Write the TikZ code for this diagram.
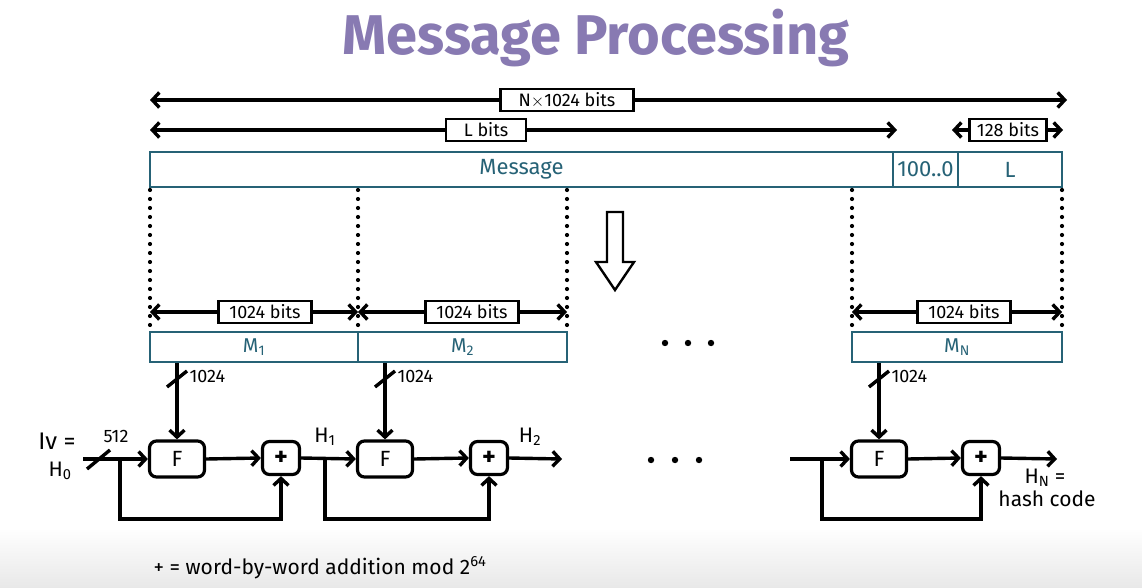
\documentclass[tikz,border=0pt]{standalone}
\usepackage{fontspec}
\setmainfont{Fira Sans}
\usetikzlibrary{arrows.meta,calc}

\definecolor{msgteal}{RGB}{38,98,118}
\definecolor{titlepurple}{RGB}{136,122,178}

\tikzset{
  flow/.style={line width=3.4pt},
  bitsbox/.style={draw,line width=2.6pt,fill=white,inner sep=0pt,minimum height=22pt,font=\fontsize{18}{18}\selectfont},
  msgbox/.style={draw=msgteal,line width=2.6pt,text=msgteal,inner sep=0pt,minimum height=35pt,font=\fontsize{22}{22}\selectfont},
  blockbox/.style={draw=msgteal,line width=2.6pt,text=msgteal,inner sep=0pt,minimum height=30pt,font=\fontsize{20}{20}\selectfont},
  fbox/.style={draw,line width=3.2pt,rounded corners=7pt,minimum width=55pt,minimum height=36pt,font=\fontsize{22}{22}\selectfont},
  addbox/.style={draw,line width=3.2pt,rounded corners=7pt,minimum width=37pt,minimum height=33pt,font=\bfseries\fontsize{26}{26}\selectfont},
  dotline/.style={line width=4.2pt,line cap=round,dash pattern=on 0pt off 9pt},
  lbl/.style={font=\fontsize{21}{21}\selectfont},
  small/.style={font=\fontsize{18}{18}\selectfont}
}

\begin{document}
\begin{tikzpicture}[x=1pt,y=-1pt,>={Straight Barb[length=7pt,width=15pt]}]
\useasboundingbox (0,0) rectangle (1142,588);
\fill[white] (0,0) rectangle (1142,588);
\shade[top color=white,bottom color=gray!18] (0,528) rectangle (1142,588);

\node[text=titlepurple,font=\bfseries\fontsize{56}{56}\selectfont] (title) at (596,38) {Message Processing};

% lengths
\coordinate (nl) at (150,100);
\coordinate (nr) at (1067,100);
\coordinate (ll) at (150,130);
\coordinate (lr) at (897,130);
\coordinate (tl) at (952,130);
\coordinate (tr) at (1063,130);
\draw[flow,<->] (nl) -- (nr);
\draw[flow,<->] (ll) -- (lr);
\draw[flow,<->] (tl) -- (tr);
\node[bitsbox,minimum width=133pt] (nbits) at (567,100) {N$\times$1024 bits};
\node[bitsbox,minimum width=80pt] (lbits) at (486,130) {L bits};
\node[bitsbox,minimum width=77pt] (tbits) at (1008,130) {128 bits};

% message with padding
\node[msgbox,minimum width=743pt] (msg) at (521.5,169.5) {Message};
\node[msgbox,minimum width=65pt] (pad) at (925.5,169.5) {100..0};
\node[msgbox,minimum width=104pt] (len) at (1010,169.5) {L};

\foreach \x in {150,358,567,852,1062}
  \draw[dotline] (\x,190) -- (\x,330);

% big arrow
\draw[line width=2.4pt,line join=miter] (607,212) -- (623,212) -- (623,262) -- (634,262) -- (615,290) -- (596,262) -- (607,262) -- cycle;

% blocks
\coordinate (a1) at (150,312);
\coordinate (a2) at (358,312);
\coordinate (a3) at (567,312);
\coordinate (a4) at (852,312);
\coordinate (a5) at (1062,312);
\draw[flow,<->] (a1) -- (a2);
\draw[flow,<->] (a2) -- (a3);
\draw[flow,<->] (a4) -- (a5);
\node[bitsbox,minimum width=93pt] (b1) at (265,312) {1024 bits};
\node[bitsbox,minimum width=93pt] (b2) at (472,312) {1024 bits};
\node[bitsbox,minimum width=93pt] (b3) at (964,312) {1024 bits};

\node[blockbox,minimum width=208pt] (m1) at (254,347) {M\textsubscript{1}};
\node[blockbox,minimum width=209pt] (m2) at (462.5,347) {M\textsubscript{2}};
\node[blockbox,minimum width=210pt] (mn) at (957,347) {M\textsubscript{N}};

\foreach \x in {665,688,711} \fill (\x,343) circle (3.2pt);
\foreach \x in {651,675,699} \fill (\x,460) circle (3.2pt);

% compression chain
\node[fbox] (f1) at (177,459) {F};
\node[fbox] (f2) at (385,459) {F};
\node[fbox] (f3) at (879,459) {F};
\node[addbox] (p1) at (281,458) {+};
\node[addbox] (p2) at (489,458) {+};
\node[addbox] (p3) at (981,458) {+};

\draw[flow,->] (f1.north |- m1.south) -- (f1.north);
\draw[flow,->] (f2.north |- m2.south) -- (f2.north);
\draw[flow,->] (f3.north |- mn.south) -- (f3.north);
\foreach \n/\x in {1/177,2/385,3/879}{
  \draw[flow] (\x-10,387) -- (\x+10,371);
  \node[small,anchor=west] (w\n) at (\x+9,376) {1024};
}

\coordinate (in0) at (83,459);
\coordinate (br1) at (120,459);
\coordinate (br2) at (325,459);
\coordinate (h2) at (562,459);
\coordinate (in3) at (790,459);
\coordinate (br3) at (822,459);
\coordinate (hn) at (1057,459);

\draw[flow,->] (in0) -- (f1.west);
\draw[flow] (87,469) -- (110,450);
\draw[flow,->] (f1.east) -- (p1.west);
\draw[flow,->] (br1) -- (120,519) -| (p1.south);
\draw[flow,->] (p1.east) -- (f2.west);
\draw[flow,->] (f2.east) -- (p2.west);
\draw[flow,->] (br2) -- (325,519) -| (p2.south);
\draw[flow,->] (p2.east) -- (h2);
\draw[flow,->] (in3) -- (f3.west);
\draw[flow,->] (f3.east) -- (p3.west);
\draw[flow,->] (br3) -- (822,519) -| (p3.south);
\draw[flow,->] (p3.east) -- (hn);

\node[lbl,font=\fontsize{24}{24}\selectfont] (iv) at (57,441) {Iv =};
\node[small] (w0) at (116,436) {512};
\node[lbl] (h0) at (60,471) {H\textsubscript{0}};
\node[lbl] (h1) at (325,437) {H\textsubscript{1}};
\node[lbl] (h2l) at (530,437) {H\textsubscript{2}};
\node[lbl] (hnl) at (1045,478) {H\textsubscript{N} =};
\node[lbl] (hash) at (1047,499) {hash code};

\node[lbl] (note) at (320,568) {+ = word-by-word addition mod 2\textsuperscript{64}};
\end{tikzpicture}
\end{document}
